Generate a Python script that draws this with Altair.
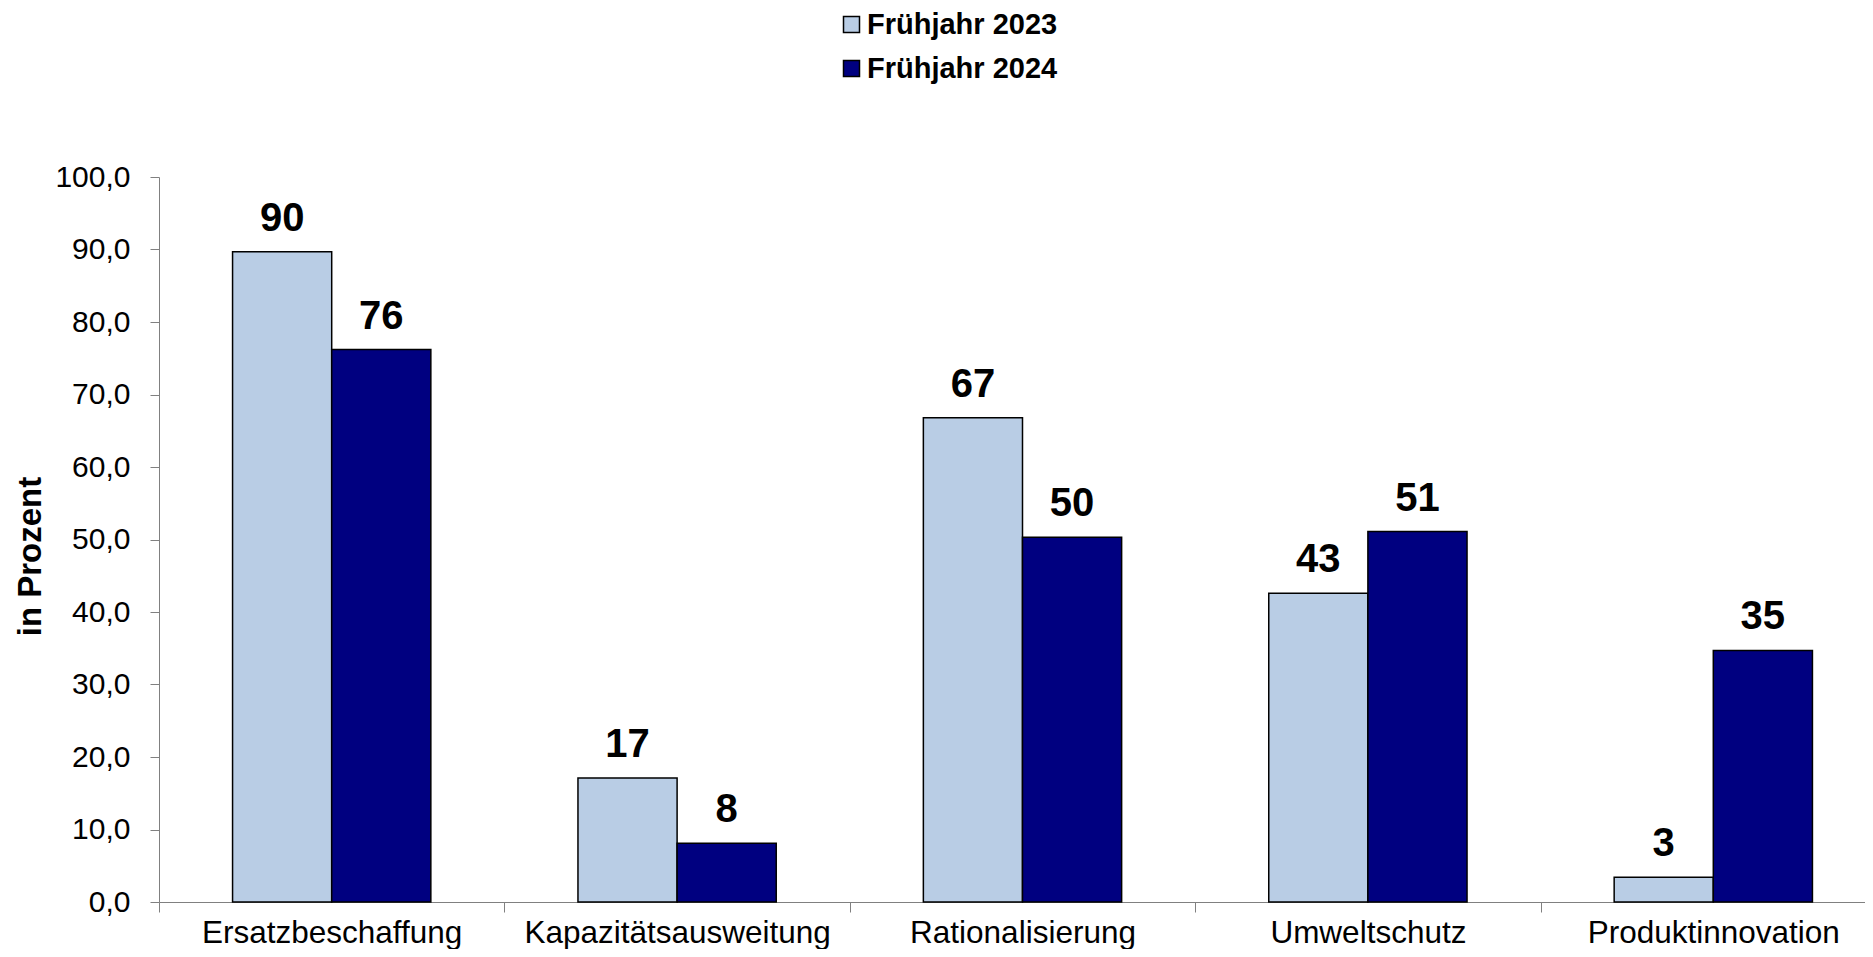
import altair as alt
import pandas as pd

categories = ["Ersatzbeschaffung", "Kapazitätsausweitung", "Rationalisierung", "Umweltschutz", "Produktinnovation"]
series = ["Frühjahr 2023", "Frühjahr 2024"]
values_2023 = [89.7, 17.1, 66.8, 42.6, 3.4]
values_2024 = [76.2, 8.1, 50.3, 51.1, 34.7]
y_ticks = [0, 10, 20, 30, 40, 50, 60, 70, 80, 90, 100]
colors = ["#B9CDE5", "#000080"]

rows = []
for c, a, b in zip(categories, values_2023, values_2024):
    rows.append({"Kategorie": c, "Serie": series[0], "Wert": a})
    rows.append({"Kategorie": c, "Serie": series[1], "Wert": b})
df = pd.DataFrame(rows)

FONT = "Liberation Sans, Arial, sans-serif"
GREY = "#808080"

x = alt.X(
    "Kategorie:N",
    sort=categories,
    scale=alt.Scale(range=[0, 1727], paddingInner=0, paddingOuter=0),
    axis=alt.Axis(
        title=None, labelAngle=0, labelFontSize=31.5, labelFont=FONT, labelColor="black",
        labelPadding=5, tickBand="extent", tickSize=10, tickColor=GREY, domainColor=GREY,
        labelLimit=500,
    ),
)
xo = alt.XOffset("Serie:N", sort=series, scale=alt.Scale(paddingOuter=0.742, paddingInner=0))
y = alt.Y(
    "Wert:Q",
    scale=alt.Scale(domain=[0, 100]),
    axis=alt.Axis(
        values=y_ticks, labelExpr="replace(format(datum.value, '.1f'), '.', ',')",
        labelFontSize=30, labelFont=FONT, labelColor="black", labelPadding=20,
        tickSize=9, tickColor=GREY, domainColor=GREY, grid=False,
        title="in Prozent", titleFont=FONT, titleFontSize=33, titleFontWeight="bold",
        titleColor="black", titleX=-129, titleY=379, titleBaseline="middle", titleAlign="center",
    ),
)

base = alt.Chart(df).encode(x=x, xOffset=xo, y=y)

bars = base.mark_bar(stroke="black", strokeWidth=1.5).encode(
    color=alt.Color(
        "Serie:N", sort=series,
        scale=alt.Scale(domain=series, range=colors),
        legend=alt.Legend(
            title=None, orient="none", legendX=678, legendY=-167, direction="vertical",
            symbolType="square", symbolSize=256, symbolStrokeColor="black", symbolStrokeWidth=1.5,
            symbolOpacity=1, labelFontSize=29, labelFontWeight="bold", labelFont=FONT,
            labelColor="black", labelOffset=1, rowPadding=14, padding=0, labelLimit=500,
        ),
    )
)

labels = base.mark_text(
    font=FONT, fontSize=40, fontWeight="bold", baseline="alphabetic", dy=-21, color="black"
).encode(text=alt.Text("Wert:Q", format=".0f"))

chart = alt.layer(bars, labels).properties(
    width=1706, height=725,
    autosize=alt.AutoSizeParams(type="none"),
    padding={"left": 151, "top": 169, "right": 0, "bottom": 47},
).configure_view(stroke=None)

chart.save("out.html", embed_options={"renderer": "svg", "actions": False})
